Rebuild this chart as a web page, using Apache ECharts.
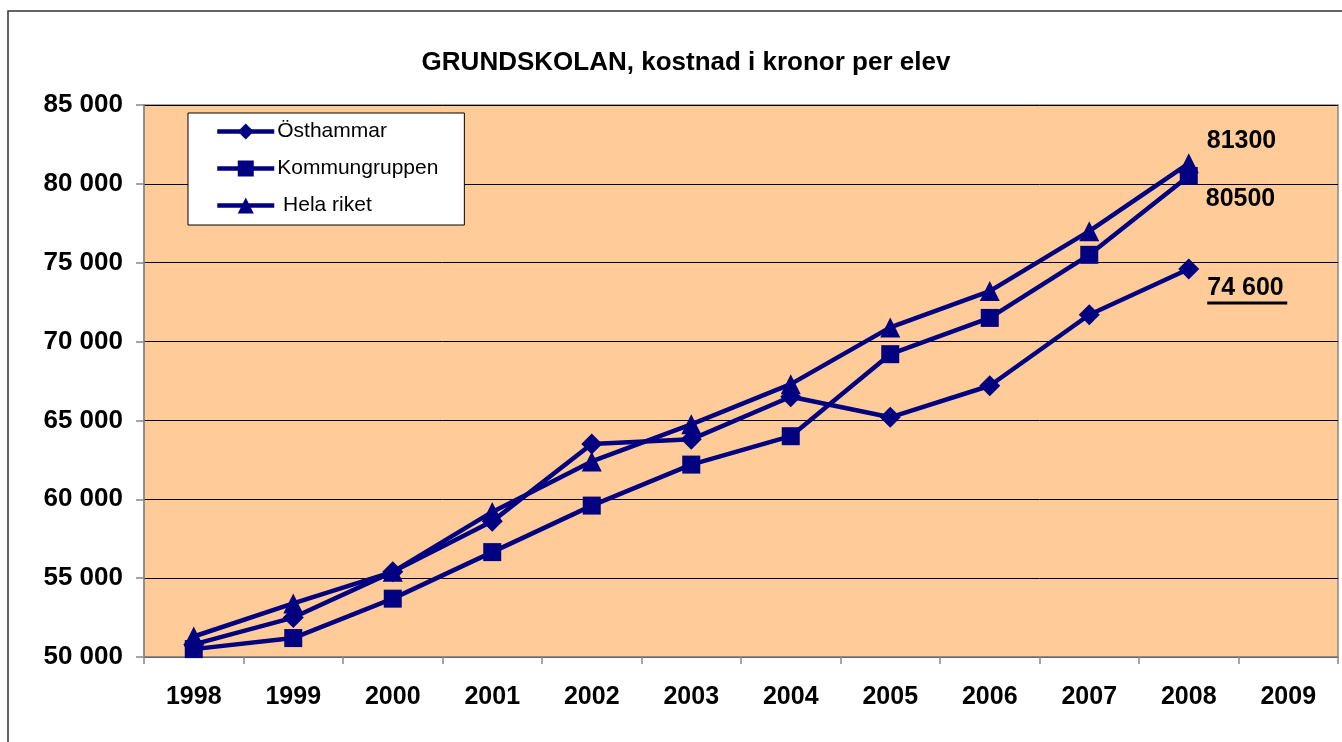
<!DOCTYPE html>
<html>
<head>
<meta charset="utf-8">
<script src="https://cdn.jsdelivr.net/npm/echarts@6/dist/echarts.min.js"></script>
<style>
html,body{margin:0;padding:0;background:#fff;}
#c{width:1342px;height:742px;}
</style>
</head>
<body>
<div id="c"></div>
<script>
const titleText = 'GRUNDSKOLAN, kostnad i kronor per elev';
const years = ['1998','1999','2000','2001','2002','2003','2004','2005','2006','2007','2008','2009'];
const seriesNames = ['Östhammar','Kommungruppen',' Hela riket'];
const osthammar    = [50800, 52500, 55400, 58600, 63500, 63800, 66500, 65200, 67200, 71700, 74600, null];
const kommungruppen = [50500, 51200, 53700, 56650, 59600, 62200, 64000, 69200, 71500, 75500, 80500, null];
const helaRiket    = [51300, 53400, 55400, 59200, 62400, 64750, 67300, 70900, 73200, 77000, 81300, null];
const endLabels = ['74 600', '80500', '81300'];

const navy = '#000080';
const font = 'Liberation Sans, Arial, sans-serif';
const FS = 25;

function withEndLabel(arr, text, offset, underline) {
  return arr.map((v, i) => {
    if (i !== 10) return v;
    return {
      value: v,
      label: {
        show: true,
        position: 'right',
        distance: 8,
        offset: offset,
        color: '#000',
        fontFamily: font,
        fontWeight: 'bold',
        fontSize: FS,
        formatter: underline ? '{t|' + text + '}\n{u|}' : text,
        rich: underline ? {
          t: {fontFamily: font, fontWeight: 'bold', fontSize: FS, color: '#000', lineHeight: 26},
          u: {width: 80, height: 3, backgroundColor: '#000', lineHeight: 4}
        } : undefined
      }
    };
  });
}

function mkSeries(name, data, symbol, size) {
  return {
    name: name,
    type: 'line',
    data: data,
    symbol: symbol,
    symbolSize: size,
    showAllSymbol: true,
    lineStyle: {color: navy, width: 4.5},
    itemStyle: {color: navy},
    emphasis: {disabled: true},
    animation: false
  };
}

const chart = echarts.init(document.getElementById('c'), null, {renderer: 'canvas'});
chart.setOption({
  backgroundColor: '#fff',
  animation: false,
  title: {
    text: titleText,
    left: 681, textAlign: 'center',
    top: 45,
    textStyle: {fontFamily: font, fontWeight: 'bold', fontSize: 26, color: '#000'}
  },
  graphic: [{
    type: 'rect', z: -10,
    shape: {x: 8, y: 11, width: 1400, height: 800},
    style: {fill: null, stroke: '#333', lineWidth: 1.5}
  }],
  legend: {
    orient: 'vertical',
    left: 188, top: 113,
    backgroundColor: '#fff',
    borderColor: '#000', borderWidth: 1,
    padding: [8, 26, 9, 27],
    itemWidth: 57, itemHeight: 20,
    itemGap: 16,
    lineStyle: {width: 4.5},
    textStyle: {fontFamily: font, fontSize: 21, color: '#000', padding: [0,0,0,-2]},
    data: seriesNames
  },
  grid: {
    left: 144, right: 4, top: 105, bottom: 85,
    show: true, backgroundColor: '#FFCC99', borderColor: '#888', borderWidth: 1.5,
    containLabel: false
  },
  xAxis: {
    type: 'category',
    data: years,
    boundaryGap: true,
    axisLine: {lineStyle: {color: '#888', width: 1.5}},
    axisTick: {show: true, length: 7, lineStyle: {color: '#888', width: 1.5}},
    axisLabel: {fontFamily: font, fontWeight: 'bold', fontSize: FS, color: '#000', margin: 28},
    splitLine: {show: false}
  },
  yAxis: {
    type: 'value',
    min: 50000, max: 85000, interval: 5000,
    axisLine: {show: true, lineStyle: {color: '#888', width: 1.5}},
    axisTick: {show: true, length: 8, lineStyle: {color: '#888', width: 1.5}},
    axisLabel: {
      fontFamily: font, fontWeight: 'bold', fontSize: 26, color: '#000', margin: 21,
      formatter: v => String(v).replace(/\B(?=(\d{3})+(?!\d))/g, ' ')
    },
    splitLine: {show: true, lineStyle: {color: '#000', width: 1}}
  },
  series: [
    mkSeries(seriesNames[0], withEndLabel(osthammar, endLabels[0], [0, 21], true), 'diamond', 21),
    mkSeries(seriesNames[1], withEndLabel(kommungruppen, endLabels[1], [0, 23], false), 'rect', 18),
    mkSeries(seriesNames[2], withEndLabel(helaRiket, endLabels[2], [0, -22], false), 'triangle', 20)
  ]
});
</script>
</body>
</html>
